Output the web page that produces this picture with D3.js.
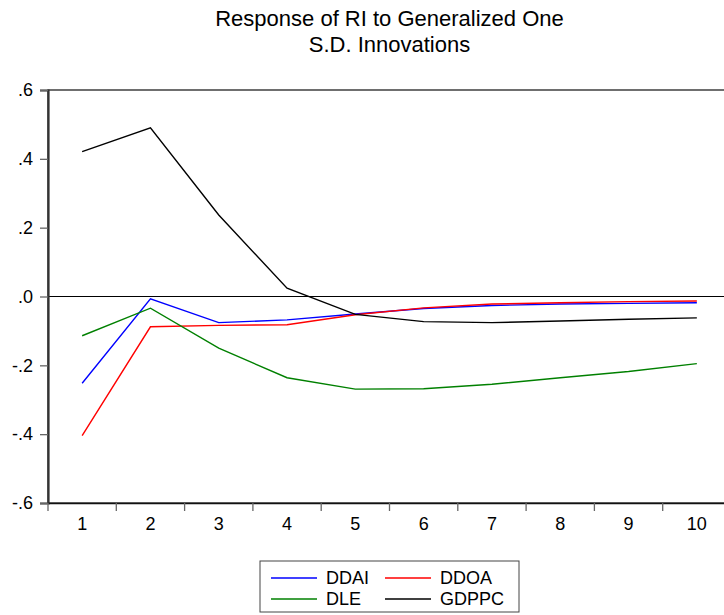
<!DOCTYPE html>
<html>
<head>
<meta charset="utf-8">
<script src="https://cdn.jsdelivr.net/npm/d3@7"></script>
<style>
  body { margin: 0; background: #fff; }
  svg { display: block; font-family: "Liberation Sans", Arial, sans-serif; }
  .tick text { fill: #000; }
</style>
</head>
<body>
<div id="irf-plot"></div>
<script>
const periods = [1, 2, 3, 4, 5, 6, 7, 8, 9, 10];
const yTicks = [-0.6, -0.4, -0.2, 0, 0.2, 0.4, 0.6];
const yTickLabels = ["-.6", "-.4", "-.2", ".0", ".2", ".4", ".6"];

const ddai = [-0.252, -0.007, -0.076, -0.068, -0.051, -0.035, -0.026, -0.022, -0.020, -0.018];
const ddoa = [-0.404, -0.088, -0.084, -0.082, -0.053, -0.033, -0.022, -0.018, -0.015, -0.013];
const dle = [-0.114, -0.034, -0.150, -0.236, -0.269, -0.268, -0.255, -0.236, -0.218, -0.195];
const gdppc = [0.421, 0.490, 0.237, 0.024, -0.052, -0.073, -0.076, -0.071, -0.066, -0.062];

const seriesNames = ["DDAI", "DDOA", "DLE", "GDPPC"];
const seriesColors = ["#0000ff", "#ff0000", "#008000", "#000000"];
const seriesValues = [ddai, ddoa, dle, gdppc];

const container_width = 724;
const container_height = 615;
const margin = { top: 90, left: 48 };
// the frame runs past the right edge of the picture
const width = 683;
const height = 413;

const svg = d3
  .select("#irf-plot")
  .append("svg")
  .attr("width", container_width)
  .attr("height", container_height);

const g = svg
  .append("g")
  .attr("transform", `translate(${margin.left},${margin.top})`);

const x = d3.scaleBand().domain(periods).range([0, width]);
const y = d3.scaleLinear().domain([-0.6, 0.6]).range([height, 0]);

// Title
svg
  .append("text")
  .attr("text-anchor", "middle")
  .attr("x", margin.left + width / 2)
  .attr("y", 26)
  .attr("font-size", 22)
  .text("Response of RI to Generalized One");
svg
  .append("text")
  .attr("text-anchor", "middle")
  .attr("x", margin.left + width / 2)
  .attr("y", 52)
  .attr("font-size", 22)
  .text("S.D. Innovations");

// Frame
g.append("rect")
  .attr("width", width)
  .attr("height", height)
  .attr("fill", "none")
  .attr("stroke", "#222")
  .attr("stroke-width", 1.3);

// Zero line
g.append("line")
  .attr("x1", 0)
  .attr("x2", width)
  .attr("y1", y(0))
  .attr("y2", y(0))
  .attr("stroke", "#000")
  .attr("stroke-width", 1.2);

// Y axis
const yAxis = g
  .append("g")
  .call(
    d3
      .axisLeft(y)
      .tickValues(yTicks)
      .tickFormat((d, i) => yTickLabels[i])
      .tickSize(8)
      .tickPadding(7),
  );
yAxis.select(".domain").attr("stroke", "#333").attr("stroke-width", 2.2);
yAxis.selectAll(".tick line").attr("stroke", "#666").attr("stroke-width", 1.3);
yAxis.selectAll(".tick text").attr("font-size", 18).attr("font-family", "Liberation Sans, Arial, sans-serif");

// X axis: ticks sit between periods, labels in the middle
const xAxis = g
  .append("g")
  .attr("transform", `translate(0,${height})`)
  .call(d3.axisBottom(x).tickSize(0).tickPadding(14));
xAxis.select(".domain").attr("stroke", "#111").attr("stroke-width", 1.6);
xAxis.selectAll(".tick text").attr("font-size", 18).attr("font-family", "Liberation Sans, Arial, sans-serif");
xAxis
  .selectAll(".sep")
  .data(periods)
  .enter()
  .append("line")
  .attr("class", "sep")
  .attr("x1", (d) => x(d))
  .attr("x2", (d) => x(d))
  .attr("y1", 0)
  .attr("y2", 8)
  .attr("stroke", "#666")
  .attr("stroke-width", 1.3);

// Response lines
const line = d3
  .line()
  .x((d, i) => x(periods[i]) + x.bandwidth() / 2)
  .y((d) => y(d));

g.selectAll(".irf")
  .data(seriesValues)
  .enter()
  .append("path")
  .attr("class", "irf")
  .attr("d", line)
  .attr("fill", "none")
  .attr("stroke", (d, i) => seriesColors[i])
  .attr("stroke-width", 1.4);

// Legend
const legend = svg.append("g").attr("transform", "translate(260,561)");
legend
  .append("rect")
  .attr("width", 259)
  .attr("height", 51)
  .attr("fill", "#fff")
  .attr("stroke", "#444")
  .attr("stroke-width", 1);

const items = legend
  .selectAll(".item")
  .data(seriesNames)
  .enter()
  .append("g")
  .attr("class", "item")
  .attr("transform", (d, i) => `translate(${(i % 2) * 114 + 11},${Math.floor(i / 2) * 21 + 17})`);
items
  .append("line")
  .attr("x1", 0)
  .attr("x2", 46)
  .attr("stroke", (d, i) => seriesColors[i])
  .attr("stroke-width", 1.4);
items
  .append("text")
  .attr("x", 55)
  .attr("dy", "0.35em")
  .attr("font-size", 18)
  .text((d) => d);
</script>
</body>
</html>
